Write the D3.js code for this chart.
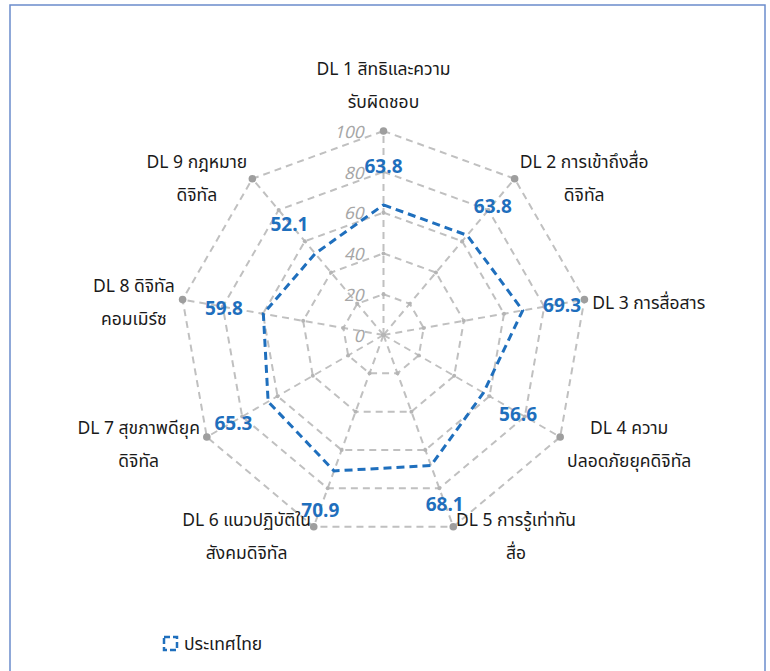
<!DOCTYPE html>
<html>
<head>
<meta charset="utf-8">
<script src="https://cdn.jsdelivr.net/npm/d3@7"></script>
<style>
  body { margin: 0; background: #fff; }
  text { font-family: "Noto Sans Thai", "Noto Sans", "DejaVu Sans", sans-serif; }
</style>
</head>
<body>
<svg width="770" height="671"></svg>
<script>
// categories (each label split into its two printed lines)
var categories = [
    ["DL 1 สิทธิและความ", "รับผิดชอบ"],
    ["DL 2 การเข้าถึงสื่อ", "ดิจิทัล"],
    ["DL 3 การสื่อสาร"],
    ["DL 4 ความ", "ปลอดภัยยุคดิจิทัล"],
    ["DL 5 การรู้เท่าทัน", "สื่อ"],
    ["DL 6 แนวปฏิบัติใน", "สังคมดิจิทัล"],
    ["DL 7 สุขภาพดียุค", "ดิจิทัล"],
    ["DL 8 ดิจิทัล", "คอมเมิร์ซ"],
    ["DL 9 กฎหมาย", "ดิจิทัล"]
];
var values = [63.8, 63.8, 69.3, 56.6, 68.1, 70.9, 65.3, 59.8, 52.1];
var seriesName = "ประเทศไทย";
var ticks = [0, 20, 40, 60, 80, 100];

var svg = d3.select("svg");
var cx = 383.5, cy = 335, R = 204;
var grey = "#c0c0c0", blue = "#1f6fbd";

// frame
svg.append("rect")
    .attr("x", 10).attr("y", 5)
    .attr("width", 755).attr("height", 672)
    .attr("fill", "#fff")
    .attr("stroke", "#6b8ccc")
    .attr("stroke-width", 1.5);

var r = d3.scaleLinear().domain([0, 100]).range([0, R]);
var n = categories.length;
var angle = d3.scaleLinear().domain([0, n]).range([0, 2 * Math.PI]);

function pt(i, v) {
    var a = angle(i);
    return [cx + r(v) * Math.sin(a), cy - r(v) * Math.cos(a)];
}

var g = svg.append("g");

// rings
ticks.slice(1).forEach(function(t) {
    g.append("polygon")
        .attr("points", d3.range(n).map(i => pt(i, t).join(",")).join(" "))
        .attr("fill", "none")
        .attr("stroke", grey)
        .attr("stroke-width", 2)
        .attr("stroke-dasharray", "7,5");
});

// spokes
d3.range(n).forEach(function(i) {
    var p = pt(i, 100);
    g.append("line")
        .attr("x1", cx).attr("y1", cy)
        .attr("x2", p[0]).attr("y2", p[1])
        .attr("stroke", grey)
        .attr("stroke-width", 2)
        .attr("stroke-dasharray", "7,5");
});

// small markers where rings cross spokes
ticks.forEach(function(t) {
    d3.range(n).forEach(function(i) {
        var p = pt(i, t);
        g.append("circle")
            .attr("cx", p[0]).attr("cy", p[1])
            .attr("r", t === 100 ? 3.8 : 2)
            .attr("fill", t === 100 ? "#9e9e9e" : "#b5b5b5");
    });
});

// tick labels
ticks.forEach(function(t) {
    g.append("text")
        .attr("x", cx - 20)
        .attr("y", cy - r(t) + 2)
        .attr("text-anchor", "end")
        .attr("dominant-baseline", "middle")
        .attr("font-style", "italic")
        .attr("font-size", 17)
        .attr("fill", "#a6a6a6")
        .text(t);
});

// series
var line = d3.line().curve(d3.curveLinearClosed);
g.append("path")
    .attr("d", line(values.map((v, i) => pt(i, v))))
    .attr("fill", "none")
    .attr("stroke", blue)
    .attr("stroke-width", 3)
    .attr("stroke-dasharray", "8,5");

// value labels
values.forEach(function(v, i) {
    var a = angle(i);
    var p = pt(i, v);
    g.append("text")
        .attr("x", p[0] + 40 * Math.sin(a))
        .attr("y", p[1] - 40 * Math.cos(a) + 3)
        .attr("text-anchor", "middle")
        .attr("dominant-baseline", "middle")
        .attr("font-weight", "bold")
        .attr("font-size", 19)
        .attr("fill", blue)
        .text(v.toFixed(1));
});

// category labels
var lh = 33;
categories.forEach(function(lines, i) {
    var a = angle(i), s = Math.sin(a), c = Math.cos(a);
    var p = pt(i, 100);
    var t = g.append("text")
        .attr("font-size", 17.5)
        .attr("fill", "#1a1a1a")
        .attr("text-anchor", "middle");
    var spans = lines.map(l => t.append("tspan").text(l));
    var w = d3.max(spans, sp => sp.node().getComputedTextLength());
    var x, y0;
    if (Math.abs(s) < 0.1) {
        x = p[0];
        y0 = p[1] - 23 - (lines.length - 1) * lh;
    } else {
        var gap = 8 * Math.abs(s);
        x = s > 0 ? p[0] + gap + w / 2 : p[0] - gap - w / 2;
        y0 = p[1] + 10 - 6 * c - (lines.length - 1) * lh / 2;
    }
    spans.forEach(function(sp, k) {
        sp.attr("x", x).attr("y", y0 + k * lh);
    });
});

// legend
var lg = svg.append("g").attr("transform", "translate(163,636)");
lg.append("rect")
    .attr("x", 1).attr("y", 1)
    .attr("width", 13).attr("height", 13)
    .attr("fill", "none")
    .attr("stroke", blue)
    .attr("stroke-width", 2.5)
    .attr("stroke-dasharray", "6,3");
lg.append("text")
    .attr("x", 21).attr("y", 14)
    .attr("font-size", 17.5)
    .attr("fill", "#1a1a1a")
    .text(seriesName);
</script>
</body>
</html>
